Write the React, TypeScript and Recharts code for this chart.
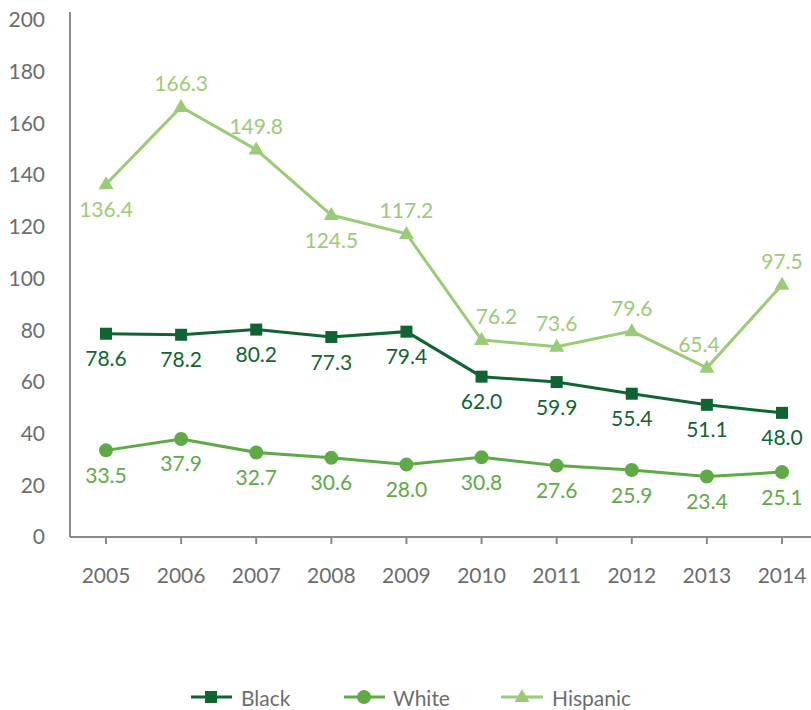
import React from 'react';
import { LineChart, Line, XAxis, YAxis, LabelList } from 'recharts';

const years = ['2005', '2006', '2007', '2008', '2009', '2010', '2011', '2012', '2013', '2014'];
const black = [78.6, 78.2, 80.2, 77.3, 79.4, 62.0, 59.9, 55.4, 51.1, 48.0];
const white = [33.5, 37.9, 32.7, 30.6, 28.0, 30.8, 27.6, 25.9, 23.4, 25.1];
const hispanic = [136.4, 166.3, 149.8, 124.5, 117.2, 76.2, 73.6, 79.6, 65.4, 97.5];
const yTicks = [0, 20, 40, 60, 80, 100, 120, 140, 160, 180, 200];

// label placement for Hispanic series: 1 = below, -1 = above
const hispanicSide = [1, -1, -1, 1, -1, -1, -1, -1, -1, -1];
const hispanicDx = [0, 0, 0, 0, 0, 15, 0, 0, -8, 0];

const C_BLACK = '#0f6532';
const C_WHITE = '#5eaa46';
const C_HISP = '#9acb76';
const FONT = 'Lato, "Noto Sans", sans-serif';
const FW = 400;
const TEXT = '#6d6d6d';

const data = years.map((y, i) => ({ year: y, black: black[i], white: white[i], hispanic: hispanic[i] }));

const SquareDot = (p: any) => (
  <rect key={`s${p.index}`} x={p.cx - 6} y={p.cy - 6} width={12} height={12} fill={C_BLACK} />
);
const CircleDot = (p: any) => <circle key={`c${p.index}`} cx={p.cx} cy={p.cy} r={7} fill={C_WHITE} />;
const TriDot = (p: any) => (
  <polygon
    key={`t${p.index}`}
    points={`${p.cx},${p.cy - 8} ${p.cx - 7.5},${p.cy + 5} ${p.cx + 7.5},${p.cy + 5}`}
    fill={C_HISP}
  />
);

const makeLabel = (color: string, sideArr: number[] | null, dxArr: number[] | null) => (p: any) => {
  const side = sideArr ? sideArr[p.index] : 1;
  const dx = dxArr ? dxArr[p.index] : 0;
  return (
    <text
      x={p.x + dx}
      y={p.y + side * 24}
      textAnchor="middle"
      dominantBaseline="central"
      fill={color}
      fontSize={21}
      fontWeight={FW}
      fontFamily={FONT}
    >
      {Number(p.value).toFixed(1)}
    </text>
  );
};

const LegendBox = () => (
  <svg width={811} height={40} style={{ position: 'absolute', left: 0, top: 680 }}>
    <g fontFamily={FONT} fontSize={21} fontWeight={FW} fill={TEXT}>
      <line x1={191} x2={232} y1={17} y2={17} stroke={C_BLACK} strokeWidth={3} />
      <rect x={205} y={11} width={12} height={12} fill={C_BLACK} />
      <text x={241} y={17} dominantBaseline="central">Black</text>
      <line x1={344} x2={385} y1={17} y2={17} stroke={C_WHITE} strokeWidth={3} />
      <circle cx={364} cy={17} r={7} fill={C_WHITE} />
      <text x={393} y={17} dominantBaseline="central">White</text>
      <line x1={501} x2={543} y1={17} y2={17} stroke={C_HISP} strokeWidth={3} />
      <polygon points="522,9 514.5,22 529.5,22" fill={C_HISP} />
      <text x={552} y={17} dominantBaseline="central">Hispanic</text>
    </g>
  </svg>
);

export default function App() {
  return (
    <div style={{ position: 'absolute', left: 0, top: 0, width: 811, height: 710, background: '#fff' }}>
      <LineChart width={811} height={710} data={data} margin={{ top: 12, right: 0, bottom: 113, left: 0 }}>
        <XAxis
          dataKey="year"
          padding={{ left: 36, right: 29 }}
          axisLine={{ stroke: '#8a8a8a', strokeWidth: 2 }}
          tickLine={{ stroke: '#8a8a8a', strokeWidth: 2 }}
          tickSize={7}
          tickMargin={24}
          height={60}
          tick={{ fill: TEXT, fontSize: 21, fontFamily: FONT, fontWeight: FW }}
          interval={0}
        />
        <YAxis
          domain={[0, 203]}
          ticks={yTicks}
          width={70}
          axisLine={{ stroke: '#8a8a8a', strokeWidth: 2 }}
          tickLine={false}
          tickSize={0}
          tickMargin={25}
          tick={{ fill: TEXT, fontSize: 21, fontFamily: FONT, fontWeight: FW }}
          interval={0}
        />
        <Line dataKey="hispanic" name="Hispanic" stroke={C_HISP} strokeWidth={3} dot={TriDot} activeDot={false} isAnimationActive={false}>
          <LabelList dataKey="hispanic" content={makeLabel(C_HISP, hispanicSide, hispanicDx)} />
        </Line>
        <Line dataKey="black" name="Black" stroke={C_BLACK} strokeWidth={3} dot={SquareDot} activeDot={false} isAnimationActive={false}>
          <LabelList dataKey="black" content={makeLabel(C_BLACK, null, null)} />
        </Line>
        <Line dataKey="white" name="White" stroke={C_WHITE} strokeWidth={3} dot={CircleDot} activeDot={false} isAnimationActive={false}>
          <LabelList dataKey="white" content={makeLabel(C_WHITE, null, null)} />
        </Line>
      </LineChart>
      <LegendBox />
    </div>
  );
}
